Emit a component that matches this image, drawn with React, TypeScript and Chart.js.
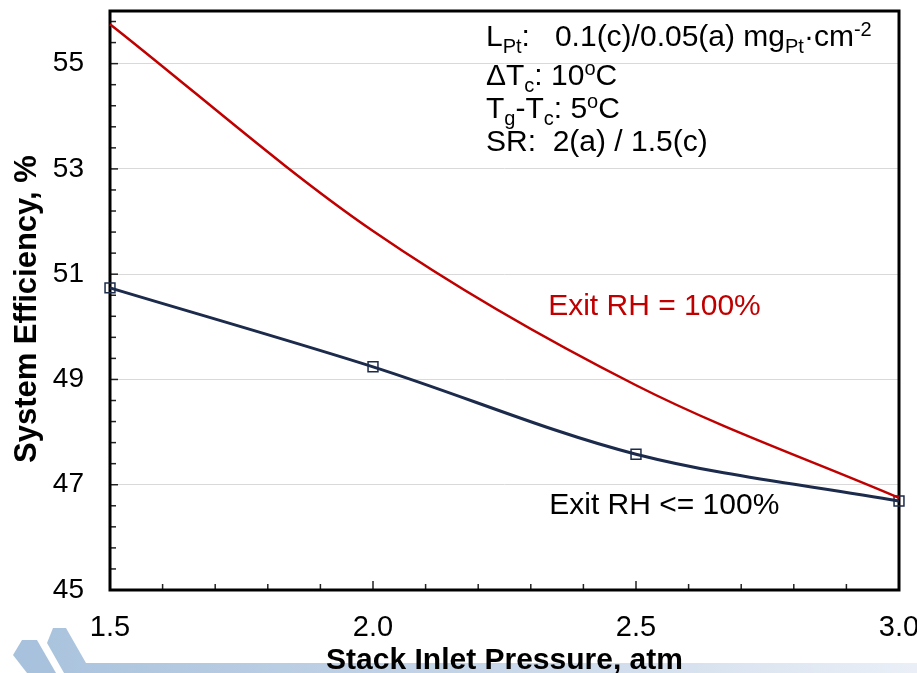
import React, { useEffect, useRef } from "react";
import { Chart, registerables } from "chart.js";

Chart.register(...registerables);

// ---- data ----
const pressures = [1.5, 2.0, 2.5, 3.0];
const effExitRH100 = [55.75, 51.82, 48.89, 46.75];
const effExitRHLe100 = [50.74, 49.24, 47.58, 46.69];
const seriesLabels = ["Exit RH = 100%", "Exit RH <= 100%"];

const xTickValues = [1.5, 2.0, 2.5, 3.0];
const xTickLabels = ["1.5", "2.0", "2.5", "3.0"];
const yTickValues = [45, 47, 49, 51, 53, 55];
const yTickLabels = ["45", "47", "49", "51", "53", "55"];
const xMinorStep = 0.1;
const yMinorStep = 0.4;

const xTitle = "Stack Inlet Pressure, atm";
const yTitle = "System Efficiency, %";

type Seg = [string, "n" | "sub" | "sup"];
const infoLines: Seg[][] = [
  [["L", "n"], ["Pt", "sub"], [":   0.1(c)/0.05(a) mg", "n"], ["Pt", "sub"], ["\u00b7cm", "n"], ["-2", "sup"]],
  [["\u0394T", "n"], ["c", "sub"], [": 10", "n"], ["o", "sup"], ["C", "n"]],
  [["T", "n"], ["g", "sub"], ["-T", "n"], ["c", "sub"], [": 5", "n"], ["o", "sup"], ["C", "n"]],
  [["SR:  2(a) / 1.5(c)", "n"]],
];

const FONT = '"Liberation Sans", Arial, sans-serif';
const RED = "#c00000";
const NAVY = "#1c2b4b";

function drawRich(ctx: CanvasRenderingContext2D, segs: Seg[], x: number, y: number, size: number) {
  let cx = x;
  for (const [t, m] of segs) {
    const s = m === "n" ? size : Math.round(size * 0.66);
    const dy = m === "sub" ? size * 0.22 : m === "sup" ? -size * 0.33 : 0;
    ctx.font = `${s}px ${FONT}`;
    ctx.fillText(t, cx, y + dy);
    cx += ctx.measureText(t).width;
  }
}

const bgPlugin = {
  id: "bgDecor",
  beforeDraw(chart: any) {
    const ctx: CanvasRenderingContext2D = chart.ctx;
    const W = chart.width;
    ctx.save();
    ctx.fillStyle = "#ffffff";
    ctx.fillRect(0, 0, W, chart.height);
    const g = ctx.createLinearGradient(0, 0, W, 0);
    g.addColorStop(0, "rgb(168,194,221)");
    g.addColorStop(0.5, "rgb(196,212,231)");
    g.addColorStop(1, "rgb(234,239,247)");
    ctx.fillStyle = g;
    ctx.beginPath();
    ctx.moveTo(53, 628);
    ctx.lineTo(66, 628);
    ctx.lineTo(86, 663);
    ctx.lineTo(W, 663);
    ctx.lineTo(W, 673);
    ctx.lineTo(64, 673);
    ctx.lineTo(47, 643);
    ctx.closePath();
    ctx.fill();
    ctx.fillStyle = "rgb(168,194,221)";
    ctx.beginPath();
    ctx.moveTo(22, 640);
    ctx.lineTo(37, 640);
    ctx.lineTo(56, 673);
    ctx.lineTo(27, 673);
    ctx.lineTo(13, 655);
    ctx.closePath();
    ctx.fill();
    ctx.restore();
  },
};

const frameTicksPlugin = {
  id: "frameTicks",
  beforeDatasetsDraw(chart: any) {
    const ctx: CanvasRenderingContext2D = chart.ctx;
    const a = chart.chartArea;
    const x = chart.scales.x;
    const y = chart.scales.y;
    ctx.save();
    ctx.strokeStyle = "#222";
    ctx.lineWidth = 1.5;
    const nx = Math.round((x.max - x.min) / xMinorStep);
    for (let i = 0; i <= nx; i++) {
      const v = x.min + i * xMinorStep;
      const major = xTickValues.some((t) => Math.abs(t - v) < 1e-6);
      const px = x.getPixelForValue(v);
      ctx.beginPath();
      ctx.moveTo(px, a.bottom);
      ctx.lineTo(px, a.bottom - (major ? 9 : 6));
      ctx.stroke();
    }
    const ny = Math.floor((y.max - y.min) / yMinorStep + 1e-6);
    for (let i = 0; i <= ny; i++) {
      const v = y.min + i * yMinorStep;
      const major = yTickValues.some((t) => Math.abs(t - v) < 1e-6);
      const py = y.getPixelForValue(v);
      ctx.beginPath();
      ctx.moveTo(a.left, py);
      ctx.lineTo(a.left + (major ? 8 : 6), py);
      ctx.stroke();
    }
    ctx.strokeStyle = "#000";
    ctx.lineWidth = 3;
    ctx.strokeRect(a.left, a.top, a.right - a.left, a.bottom - a.top);
    ctx.restore();
  },
};

const textPlugin = {
  id: "texts",
  afterDraw(chart: any) {
    const ctx: CanvasRenderingContext2D = chart.ctx;
    const x = chart.scales.x;
    const y = chart.scales.y;
    ctx.save();
    ctx.textBaseline = "alphabetic";
    ctx.textAlign = "left";
    ctx.fillStyle = "#000";
    const baselines = [46, 85, 118, 151];
    infoLines.forEach((line, i) => drawRich(ctx, line, 486, baselines[i], 30));
    ctx.font = `30px ${FONT}`;
    ctx.fillStyle = RED;
    ctx.fillText(seriesLabels[0], x.getPixelForValue(2.333), y.getPixelForValue(50.22));
    ctx.fillStyle = "#000";
    ctx.fillText(seriesLabels[1], x.getPixelForValue(2.335), y.getPixelForValue(46.44));
    ctx.restore();
  },
};

function zeroPad(s: any) {
  s.paddingTop = 0;
  s.paddingBottom = 0;
  s.paddingLeft = 0;
  s.paddingRight = 0;
}

export default function App() {
  const ref = useRef<HTMLCanvasElement | null>(null);
  useEffect(() => {
    if (!ref.current) return;
    const chart = new Chart(ref.current, {
      type: "line",
      data: {
        datasets: [
          {
            label: seriesLabels[0],
            data: pressures.map((p, i) => ({ x: p, y: effExitRH100[i] })),
            borderColor: RED,
            borderWidth: 2.5,
            pointRadius: 0,
            cubicInterpolationMode: "monotone",
            fill: false,
            clip: false as any,
          },
          {
            label: seriesLabels[1],
            data: pressures.map((p, i) => ({ x: p, y: effExitRHLe100[i] })),
            borderColor: NAVY,
            borderWidth: 3,
            pointStyle: "rect",
            pointRadius: 7,
            pointBorderWidth: 1.5,
            pointBorderColor: NAVY,
            pointBackgroundColor: "rgba(255,255,255,0)",
            cubicInterpolationMode: "monotone",
            fill: false,
            clip: false as any,
          },
        ],
      },
      options: {
        animation: false,
        responsive: false,
        devicePixelRatio: 1,
        layout: { padding: { top: 11, right: 18, left: 0, bottom: 0 } },
        plugins: { legend: { display: false }, tooltip: { enabled: false } },
        scales: {
          x: {
            type: "linear",
            min: 1.5,
            max: 3.0,
            afterBuildTicks: (s: any) => {
              s.ticks = xTickValues.map((v) => ({ value: v }));
            },
            afterFit: (s: any) => {
              s.height = 83;
              zeroPad(s);
            },
            grid: { display: false, drawTicks: false },
            border: { display: false },
            ticks: {
              padding: 21,
              color: "#000",
              font: { family: FONT, size: 29 },
              maxRotation: 0,
              callback: (v: any) => {
                const i = xTickValues.findIndex((t) => Math.abs(t - Number(v)) < 1e-6);
                return i >= 0 ? xTickLabels[i] : "";
              },
            },
            title: {
              display: true,
              text: xTitle,
              color: "#000",
              font: { family: FONT, size: 30, weight: "bold", lineHeight: 1 },
              padding: { top: 0, bottom: -3 },
            },
          },
          y: {
            type: "linear",
            min: 45,
            max: 56,
            afterBuildTicks: (s: any) => {
              s.ticks = yTickValues.map((v) => ({ value: v }));
            },
            afterFit: (s: any) => {
              s.width = 110;
              zeroPad(s);
            },
            grid: { color: "#d9d9d9", lineWidth: 1, drawTicks: false },
            border: { display: false },
            ticks: {
              padding: 26,
              color: "#000",
              font: { family: FONT, size: 28 },
              callback: (v: any) => {
                const i = yTickValues.findIndex((t) => Math.abs(t - Number(v)) < 1e-6);
                return i >= 0 ? yTickLabels[i] : "";
              },
            },
            title: {
              display: true,
              text: yTitle + "\u00a0\u00a0",
              color: "#000",
              font: { family: FONT, size: 31, weight: "bold", lineHeight: 1 },
              padding: { top: 12, bottom: 0 },
            },
          },
        },
      },
      plugins: [bgPlugin, frameTicksPlugin, textPlugin],
    } as any);
    return () => chart.destroy();
  }, []);
  return (
    <div style={{ position: "fixed", left: 0, top: 0, width: 917, height: 673 }}>
      <canvas ref={ref} width={917} height={673} style={{ width: 917, height: 673, display: "block" }} />
    </div>
  );
}
